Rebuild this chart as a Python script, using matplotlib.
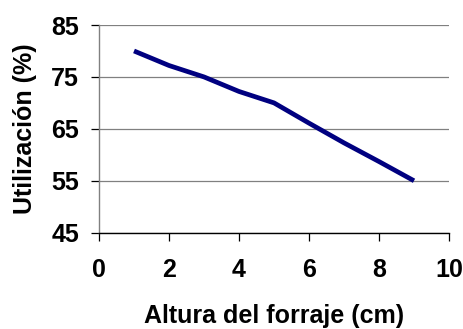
import matplotlib
matplotlib.use('Agg')
import matplotlib.pyplot as plt

altura = [1, 2, 3, 4, 5, 6, 7, 8, 9]
utilizacion = [80, 77.2, 75, 72.2, 70, 66.1, 62.3, 58.7, 55]
x_ticks = [0, 2, 4, 6, 8, 10]
y_ticks = [45, 55, 65, 75, 85]

plt.rcParams['font.family'] = ['Liberation Sans', 'DejaVu Sans']

fig = plt.figure(figsize=(4.64, 3.29), dpi=100)
ax = fig.add_axes([0.2134, 0.2927, 0.7543, 0.6313])

ax.plot(altura, utilizacion, color='#000080', linewidth=3.4, solid_capstyle='butt', zorder=3)

ax.set_xlim(0, 10)
ax.set_ylim(45, 85)
ax.set_xticks(x_ticks)
ax.set_yticks(y_ticks)
ax.yaxis.grid(True, color='#808080', linewidth=0.9)
ax.set_axisbelow(True)

ax.spines['top'].set_visible(False)
ax.spines['right'].set_visible(False)
ax.spines['left'].set_color('#808080')
ax.spines['left'].set_linewidth(1.0)
ax.spines['bottom'].set_color('black')
ax.spines['bottom'].set_linewidth(1.0)

ax.tick_params(axis='both', direction='out', length=5.5, width=0.9, labelsize=18)
ax.tick_params(axis='x', pad=13)
ax.tick_params(axis='y', pad=9)
for lbl in ax.get_xticklabels() + ax.get_yticklabels():
    lbl.set_fontweight('bold')

ax.set_xlabel('Altura del forraje (cm)', fontsize=18, fontweight='bold', labelpad=15.5)
ax.set_ylabel('Utilización (%)', fontsize=18, fontweight='bold', labelpad=10)

fig.savefig('out.png', dpi=100)
